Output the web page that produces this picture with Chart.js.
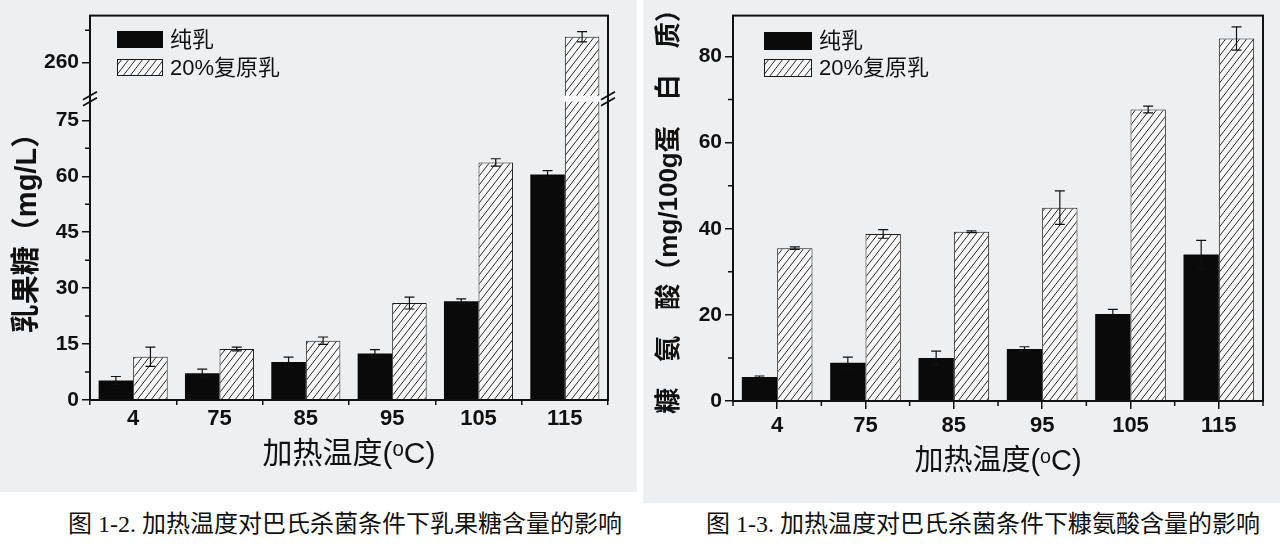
<!DOCTYPE html>
<html>
<head>
<meta charset="utf-8">
<script src="https://cdn.jsdelivr.net/npm/chart.js@4.4.0/dist/chart.umd.min.js"></script>
<style>
  html, body { margin: 0; padding: 0; background: #fff; width: 1280px; height: 549px; overflow: hidden; }
  .panel { position: absolute; top: 0; background: #eeeff1; }
  #p1 { left: 0; width: 637px; height: 492px; }
  #p2 { left: 643px; width: 637px; height: 503px; }
  .box { position: absolute; top: 0; width: 640px; height: 500px; }
  .cap { position: absolute; top: 504px; font: 24px "Liberation Serif", "Noto Sans CJK SC", serif; color: #111; white-space: nowrap; }
</style>
</head>
<body>
<div class="panel" id="p1"></div>
<div class="panel" id="p2"></div>
<div class="box" style="left:0"><canvas id="c1"></canvas></div>
<div class="box" style="left:640px"><canvas id="c2"></canvas></div>
<div class="cap" style="left:68px">图 1-2. 加热温度对巴氏杀菌条件下乳果糖含量的影响</div>
<div class="cap" style="left:706px">图 1-3. 加热温度对巴氏杀菌条件下糠氨酸含量的影响</div>

<script>
const FONT = '"Liberation Sans", "Noto Sans CJK SC", "DejaVu Sans", sans-serif';
const INK = '#111';

// ---- data ----
const temps = ['4', '75', '85', '95', '105', '115'];
const seriesNames = ['纯乳', '20%复原乳'];

// lactulose, mg/L
const lacPure = [5.2, 7.2, 10.2, 12.5, 26.5, 60.5];
const lacPureErr = [1.1, 1.1, 1.3, 1.0, 0.6, 1.0];
const lacRecon = [11.6, 13.7, 15.9, 26.0, 63.7, 264.0];
const lacReconErr = [2.6, 0.5, 1.0, 1.6, 1.0, 0.8];
const lacTicks = [0, 15, 30, 45, 60, 75, 260];
const lacMinor = [7.5, 22.5, 37.5, 52.5, 67.5, 265];

// furosine, mg/100g protein
const furPure = [5.6, 8.9, 10.0, 12.1, 20.2, 34.0];
const furPureErr = [0.2, 1.3, 1.6, 0.5, 1.1, 3.3];
const furRecon = [35.5, 38.8, 39.3, 44.9, 67.7, 84.2];
const furReconErr = [0.3, 1.0, 0.2, 3.9, 0.8, 2.7];
const furTicks = [0, 20, 40, 60, 80];
const furMinor = [10, 30, 50, 70];

// broken axis: 0..80 below the break, 254.8..267.3 above it
const LOW_MAX = 80, HIGH_MIN = 254.8, LOW_FRAC = 0.776, BREAK_GAP = 6;

class BrokenLinearScale extends Chart.LinearScale {
  getPixelForValue(value) {
    const b = this.bottom, t = this.top;
    const split = b - (b - t) * LOW_FRAC, up = split - BREAK_GAP;
    if (value <= LOW_MAX) return b - (value - this.min) / (LOW_MAX - this.min) * (b - split);
    if (value < HIGH_MIN) return split - (value - LOW_MAX) / (HIGH_MIN - LOW_MAX) * BREAK_GAP;
    return up - (value - HIGH_MIN) / (this.max - HIGH_MIN) * (up - t);
  }
  getValueForPixel(pixel) {
    const b = this.bottom, t = this.top;
    const split = b - (b - t) * LOW_FRAC, up = split - BREAK_GAP;
    if (pixel >= split) return this.min + (b - pixel) / (b - split) * (LOW_MAX - this.min);
    if (pixel >= up) return LOW_MAX + (split - pixel) / BREAK_GAP * (HIGH_MIN - LOW_MAX);
    return HIGH_MIN + (up - pixel) / (up - t) * (this.max - HIGH_MIN);
  }
}
BrokenLinearScale.id = 'brokenLinear';
BrokenLinearScale.defaults = Chart.LinearScale.defaults;
Chart.register(BrokenLinearScale);

Chart.defaults.font.family = FONT;
Chart.defaults.color = INK;

function hatch() {
  const c = document.createElement('canvas');
  c.width = 7; c.height = 9;
  const g = c.getContext('2d');
  g.fillStyle = '#f8f8f8';
  g.fillRect(0, 0, 7, 9);
  g.strokeStyle = '#2a2a2a';
  g.lineWidth = 1;
  g.beginPath();
  for (const dx of [-7, 0, 7]) { g.moveTo(dx, 9); g.lineTo(dx + 7, 0); }
  g.stroke();
  return g.createPattern(c, 'repeat');
}

function datasets(pure, pureErr, recon, reconErr) {
  return [
    { label: seriesNames[0], data: pure, errors: pureErr, backgroundColor: '#0a0a0a', borderWidth: 0,
      categoryPercentage: 0.8, barPercentage: 1.0 },
    { label: seriesNames[1], data: recon, errors: reconErr, backgroundColor: hatch(), borderColor: '#1a1a1a',
      borderWidth: 1, categoryPercentage: 0.8, barPercentage: 1.0 }
  ];
}

// frame, minor ticks, error bars, legend, axis break
function decor(cfg) {
  return {
    id: 'decor',
    afterDatasetsDraw(chart) {
      const ctx = chart.ctx, y = chart.scales.y;
      ctx.save();
      ctx.strokeStyle = INK;
      ctx.lineWidth = 1.2;
      chart.data.datasets.forEach((ds, i) => {
        chart.getDatasetMeta(i).data.forEach((bar, j) => {
          const v = ds.data[j], e = ds.errors[j];
          const yt = y.getPixelForValue(v + e), yb = y.getPixelForValue(v - e);
          ctx.beginPath();
          ctx.moveTo(bar.x, yt); ctx.lineTo(bar.x, yb);
          ctx.moveTo(bar.x - 5, yt); ctx.lineTo(bar.x + 5, yt);
          ctx.moveTo(bar.x - 5, yb); ctx.lineTo(bar.x + 5, yb);
          ctx.stroke();
        });
      });
      if (cfg.broken) {
        const split = y.getPixelForValue(LOW_MAX);
        chart.data.datasets.forEach((ds, i) => {
          chart.getDatasetMeta(i).data.forEach((bar, j) => {
            if (ds.data[j] > LOW_MAX) {
              ctx.fillStyle = '#fbfbfb';
              ctx.fillRect(bar.x - bar.width / 2 - 1, split - BREAK_GAP, bar.width + 2, BREAK_GAP);
            }
          });
        });
      }
      ctx.restore();
    },
    afterDraw(chart) {
      const ctx = chart.ctx, a = chart.chartArea, y = chart.scales.y, x = chart.scales.x;
      ctx.save();
      ctx.strokeStyle = INK;
      ctx.lineWidth = 2;
      ctx.strokeRect(a.left, a.top, a.right - a.left, a.bottom - a.top);

      ctx.lineWidth = 1.5;
      ctx.beginPath();
      cfg.minor.forEach(v => {
        const py = y.getPixelForValue(v);
        ctx.moveTo(a.left - 5, py); ctx.lineTo(a.left, py);
      });
      if (cfg.xBounds) {
        for (let i = 0; i <= temps.length; i++) {
          const px = x.getPixelForValue(i - 0.5);
          ctx.moveTo(px, a.bottom); ctx.lineTo(px, a.bottom + 5);
        }
      }
      ctx.stroke();

      if (cfg.broken) {
        const yc = y.getPixelForValue(LOW_MAX) - BREAK_GAP / 2;
        ctx.lineWidth = 1.8;
        ctx.beginPath();
        [a.left, a.right].forEach(ax => {
          [-3, 3].forEach(d => {
            ctx.moveTo(ax - 7, yc + d + 4); ctx.lineTo(ax + 7, yc + d - 4);
          });
        });
        ctx.stroke();
      }

      // legend
      const L = cfg.legend;
      ctx.font = '22px ' + FONT;
      ctx.textBaseline = 'middle';
      ctx.textAlign = 'left';
      chart.data.datasets.forEach((ds, i) => {
        const by = L.y + i * L.gap;
        ctx.fillStyle = ds.backgroundColor;
        ctx.fillRect(L.x, by, L.w, L.h);
        if (ds.borderWidth) {
          ctx.lineWidth = 1;
          ctx.strokeStyle = ds.borderColor;
          ctx.strokeRect(L.x + 0.5, by + 0.5, L.w - 1, L.h - 1);
        }
        ctx.fillStyle = INK;
        ctx.fillText(ds.label, L.x + L.w + 7, by + L.h / 2 + 1);
      });

      // y title
      const T = cfg.yTitle;
      ctx.translate(T.x, T.y);
      ctx.rotate(-Math.PI / 2);
      ctx.textAlign = 'center';
      ctx.font = 'bold ' + T.size + 'px ' + FONT;
      ctx.fillText(T.text, 0, 0);
      ctx.restore();
    }
  };
}

function xAxis(height, tickLen, offset, padBottom, titleSize, labelPad) {
  return {
    afterFit: s => { s.height = height; },
    ticks: { color: INK, font: { size: 22, weight: 'bold' }, padding: labelPad, maxRotation: 0 },
    grid: { offset: offset, drawOnChartArea: false, tickLength: tickLen, color: INK, lineWidth: 1.5 },
    border: { color: INK, width: 2 },
    title: { display: true, text: '加热温度(ᵒC)', color: INK, font: { size: titleSize },
      padding: { top: 0, bottom: padBottom } }
  };
}

function yGrid() {
  return { drawOnChartArea: false, tickLength: 8, color: INK, lineWidth: 1.5 };
}

new Chart(document.getElementById('c1'), {
  type: 'bar',
  data: { labels: temps, datasets: datasets(lacPure, lacPureErr, lacRecon, lacReconErr) },
  options: {
    responsive: true, maintainAspectRatio: false, animation: false,
    layout: { padding: { left: 0, top: 7, right: 32, bottom: 0 } },
    plugins: { legend: { display: false }, tooltip: { enabled: false } },
    scales: {
      x: xAxis(100, 5, true, 27, 30, 1),
      y: {
        type: 'brokenLinear', min: 0, max: 267.3,
        afterBuildTicks: s => { s.ticks = lacTicks.map(v => ({ value: v })); },
        afterFit: s => { s.width = 90; },
        ticks: { autoSkip: false, padding: 3, color: INK, font: { size: 21, weight: 'bold' }, callback: v => String(v) },
        grid: yGrid(),
        border: { color: INK, width: 2 }
      }
    }
  },
  plugins: [decor({
    minor: lacMinor, xBounds: false, broken: true,
    legend: { x: 117, y: 31, w: 46, h: 17, gap: 28 },
    yTitle: { x: 28, y: 226, size: 29, text: '乳果糖（mg/L）' }
  })]
});

new Chart(document.getElementById('c2'), {
  type: 'bar',
  data: { labels: temps, datasets: datasets(furPure, furPureErr, furRecon, furReconErr) },
  options: {
    responsive: true, maintainAspectRatio: false, animation: false,
    layout: { padding: { left: 0, top: 12, right: 17, bottom: 0 } },
    plugins: { legend: { display: false }, tooltip: { enabled: false } },
    scales: {
      x: xAxis(99, 8, false, 21, 29, 4),
      y: {
        min: 0, max: 89.5,
        afterBuildTicks: s => { s.ticks = furTicks.map(v => ({ value: v })); },
        afterFit: s => { s.width = 93; },
        ticks: { autoSkip: false, padding: 3, color: INK, font: { size: 21, weight: 'bold' } },
        grid: yGrid(),
        border: { color: INK, width: 2 }
      }
    }
  },
  plugins: [decor({
    minor: furMinor, xBounds: true, broken: false,
    legend: { x: 124, y: 32, w: 48, h: 18, gap: 27 },
    yTitle: { x: 30, y: 205, size: 26, text: '糠　氨　酸（mg/100g蛋　白　质）' }
  })]
});
</script>
</body>
</html>
